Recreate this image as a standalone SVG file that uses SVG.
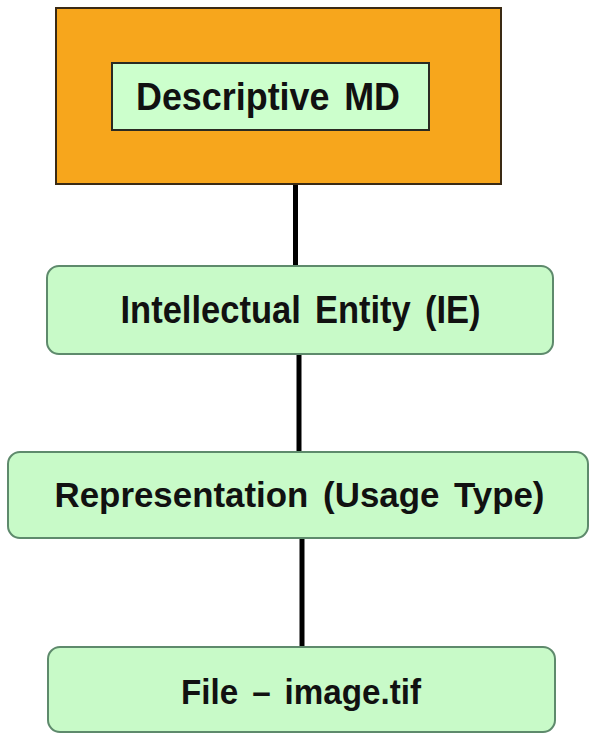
<svg xmlns="http://www.w3.org/2000/svg" width="589" height="733" viewBox="0 0 589 733">
  <style>
    .lbl { font-family: "Liberation Sans", Arial, sans-serif; font-weight: bold; fill: #111; text-anchor: middle; word-spacing: 5px; }
    .rnd { fill: #C8FAC8; stroke: #5E8A6C; stroke-width: 2; }
    .conn { stroke: #000; stroke-width: 5; fill: none; }
  </style>
  <rect width="589" height="733" fill="#ffffff"/>
  <g id="connectors">
    <line class="conn" x1="295.5" y1="184" x2="295.5" y2="267"/>
    <line class="conn" x1="299" y1="354" x2="299" y2="452"/>
    <line class="conn" x1="302" y1="538" x2="302" y2="647"/>
  </g>
  <g id="descriptive-md">
    <rect x="56" y="8" width="445" height="176" fill="#F7A61C" stroke="#3A2A14" stroke-width="2"/>
    <rect x="112" y="63" width="317" height="67" fill="#CCFFCC" stroke="#2A2A22" stroke-width="2"/>
    <text class="lbl" x="268" y="110" font-size="38" textLength="264" lengthAdjust="spacingAndGlyphs">Descriptive MD</text>
  </g>
  <g id="intellectual-entity">
    <rect class="rnd" x="47" y="266" width="506" height="88" rx="12" ry="12"/>
    <text class="lbl" x="300.5" y="323" font-size="38" textLength="360" lengthAdjust="spacingAndGlyphs">Intellectual Entity (IE)</text>
  </g>
  <g id="representation">
    <rect class="rnd" x="8" y="452" width="580" height="86" rx="12" ry="12"/>
    <text class="lbl" x="299.5" y="507" font-size="35" textLength="490" lengthAdjust="spacingAndGlyphs">Representation (Usage Type)</text>
  </g>
  <g id="file">
    <rect class="rnd" x="48" y="647" width="507" height="85" rx="12" ry="12"/>
    <text class="lbl" x="301" y="704" font-size="35" textLength="240" lengthAdjust="spacingAndGlyphs">File – image.tif</text>
  </g>
</svg>
